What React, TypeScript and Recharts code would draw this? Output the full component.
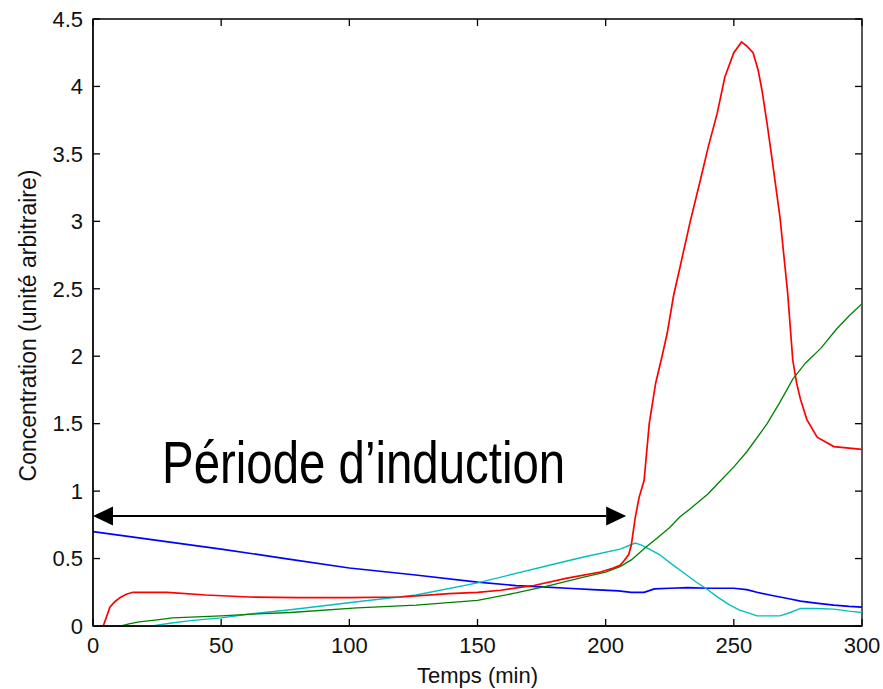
import React from 'react'
import { LineChart, Line, XAxis, YAxis, ReferenceLine, ReferenceArea, Label } from 'recharts'

// temps (min) / concentration pour chaque espèce
const redT = [0, 4, 6.6, 8.5, 10.5, 13, 15.6, 22, 29, 44, 61, 80, 100, 120, 139, 150, 159, 172, 185, 198, 203, 205.6, 207, 209, 210, 211.5, 213, 215, 217, 219.5, 222, 224, 226.5, 229, 233, 237, 240, 243.5, 246.5, 250, 253, 255, 257.5, 259.5, 261, 263, 265, 268, 271, 273, 274.5, 276, 278.5, 282.5, 289, 300]
const redV = [0, 0, 0.14, 0.18, 0.21, 0.235, 0.25, 0.25, 0.25, 0.23, 0.215, 0.21, 0.21, 0.215, 0.24, 0.25, 0.265, 0.3, 0.355, 0.4, 0.43, 0.45, 0.48, 0.53, 0.6, 0.8, 0.95, 1.08, 1.5, 1.8, 2.0, 2.17, 2.45, 2.66, 3.0, 3.31, 3.55, 3.8, 4.07, 4.25, 4.33, 4.3, 4.25, 4.12, 3.97, 3.72, 3.45, 3.03, 2.47, 1.97, 1.8, 1.68, 1.53, 1.4, 1.33, 1.31]

const blueT = [0, 25, 50, 75, 100, 125, 150, 165, 175, 185, 195, 205, 210, 215, 219, 225, 232, 240, 250, 255, 259, 264, 268, 272, 276, 282, 289, 295, 300]
const blueV = [0.7, 0.635, 0.57, 0.5, 0.43, 0.38, 0.325, 0.3, 0.29, 0.28, 0.27, 0.26, 0.25, 0.25, 0.275, 0.28, 0.285, 0.28, 0.28, 0.27, 0.25, 0.23, 0.215, 0.2, 0.185, 0.17, 0.155, 0.145, 0.14]

const greenT = [0, 11, 14, 18, 25, 31, 50, 64, 77, 103, 126, 150, 165, 178, 191, 200, 205.6, 210, 213, 216, 220, 225, 229, 233, 240, 245, 250, 255, 263, 268, 273, 278, 284, 290, 295, 300]
const greenV = [0, 0, 0.015, 0.03, 0.045, 0.06, 0.075, 0.09, 0.1, 0.135, 0.155, 0.19, 0.245, 0.3, 0.36, 0.4, 0.44, 0.49, 0.54, 0.59, 0.65, 0.73, 0.81, 0.87, 0.98, 1.08, 1.18, 1.29, 1.5, 1.66, 1.83, 1.95, 2.06, 2.2, 2.3, 2.39]

const cyanT = [0, 23, 30, 38, 50, 64, 77, 90, 103, 126, 150, 165, 178, 191, 205.6, 211.5, 214, 217, 221, 225, 230, 235, 239, 244, 248, 252, 256, 259, 268, 272, 276, 282, 289, 295, 300]
const cyanV = [0, 0, 0.02, 0.04, 0.06, 0.095, 0.12, 0.15, 0.18, 0.23, 0.32, 0.39, 0.45, 0.51, 0.57, 0.615, 0.6, 0.57, 0.53, 0.47, 0.4, 0.33, 0.28, 0.21, 0.16, 0.12, 0.095, 0.075, 0.075, 0.1, 0.13, 0.13, 0.125, 0.11, 0.1]

const xTicks = [0, 50, 100, 150, 200, 250, 300]
const yTicks = [0, 0.5, 1, 1.5, 2, 2.5, 3, 3.5, 4, 4.5]

// flèche "période d'induction"
const arrowStart = 0
const arrowEnd = 208
const arrowY = 0.815

const toRows = (t: number[], v: number[]) => t.map((x, i) => ({ t: x, v: v[i] }))

const redData = toRows(redT, redV)
const blueData = toRows(blueT, blueV)
const greenData = toRows(greenT, greenV)
const cyanData = toRows(cyanT, cyanV)

const FONT = '"Liberation Sans", Arial, sans-serif'

const X_MIN = 0
const X_MAX = 300
const Y_MIN = 0
const Y_MAX = 4.5
const PLOT_W = 769
const PLOT_H = 607
const TICK_PX = 7
// inward tick length expressed in axis units
const tickDx = ((X_MAX - X_MIN) * TICK_PX) / PLOT_W
const tickDy = ((Y_MAX - Y_MIN) * TICK_PX) / PLOT_H

const InductionArrow = (props: any) => {
  const { x1, y1, x2 } = props
  const head = 20
  const half = 9.5
  const left = Math.min(x1, x2)
  const right = Math.max(x1, x2)
  const cx = (left + right) / 2 + 4
  return (
    <g>
      <line x1={left + head} y1={y1} x2={right - head} y2={y1} stroke="#000" strokeWidth={2} />
      <polygon points={`${left},${y1} ${left + head},${y1 - half} ${left + head},${y1 + half}`} fill="#000" />
      <polygon points={`${right},${y1} ${right - head},${y1 - half} ${right - head},${y1 + half}`} fill="#000" />
      <text
        transform={`translate(${cx}, ${y1 - 33}) scale(1, 1.25)`}
        x={0}
        y={0}
        textAnchor="middle"
        fontFamily={FONT}
        fontSize={47.4}
        fill="#000"
      >
        Période d’induction
      </text>
    </g>
  )
}

const YTitle = (props: any) => {
  const { viewBox } = props
  const cx = viewBox.x + 28
  const cy = viewBox.y + viewBox.height / 2 + 3
  return (
    <text
      x={cx}
      y={cy}
      transform={`rotate(-90, ${cx}, ${cy})`}
      textAnchor="middle"
      dominantBaseline="central"
      fontFamily={FONT}
      fontSize={23}
      fill="#111"
    >
      Concentration (unité arbitraire)
    </text>
  )
}

export default function App() {
  const tickStyle = { fill: '#111', fontSize: 22, fontFamily: FONT }
  const frame = { stroke: '#000', strokeWidth: 1.3 }
  return (
    <div style={{ position: 'absolute', left: 0, top: 0, background: '#fff' }}>
      <LineChart width={883} height={689} margin={{ top: 19, right: 21, bottom: 0, left: 0 }}>
        <XAxis
          dataKey="t"
          type="number"
          domain={[X_MIN, X_MAX]}
          ticks={xTicks}
          allowDataOverflow
          height={63}
          tickLine={false}
          tickSize={0}
          tickMargin={11}
          tick={tickStyle}
          axisLine={frame}
        >
          <Label value="Temps (min)" position="insideBottom" offset={6} style={{ fontFamily: FONT, fontSize: 22, fill: '#111' }} />
        </XAxis>
        <YAxis
          type="number"
          domain={[Y_MIN, Y_MAX]}
          ticks={yTicks}
          allowDataOverflow
          width={93}
          tickLine={false}
          tickSize={0}
          tickMargin={10}
          tick={tickStyle}
          axisLine={frame}
        >
          <Label content={<YTitle />} />
        </YAxis>

        {/* box around the plot, MATLAB style */}
        <ReferenceArea x1={X_MIN} x2={X_MAX} y1={Y_MIN} y2={Y_MAX} fill="none" fillOpacity={0} stroke="#000" strokeWidth={1.3} />

        {/* inward ticks on all four sides */}
        {xTicks.map((t) => (
          <ReferenceLine key={'xb' + t} segment={[{ x: t, y: Y_MIN }, { x: t, y: Y_MIN + tickDy }]} {...frame} />
        ))}
        {xTicks.map((t) => (
          <ReferenceLine key={'xt' + t} segment={[{ x: t, y: Y_MAX }, { x: t, y: Y_MAX - tickDy }]} {...frame} />
        ))}
        {yTicks.map((v) => (
          <ReferenceLine key={'yl' + v} segment={[{ x: X_MIN, y: v }, { x: X_MIN + tickDx, y: v }]} {...frame} />
        ))}
        {yTicks.map((v) => (
          <ReferenceLine key={'yr' + v} segment={[{ x: X_MAX, y: v }, { x: X_MAX - tickDx, y: v }]} {...frame} />
        ))}

        <Line data={blueData} dataKey="v" stroke="#0000ff" strokeWidth={1.7} dot={false} isAnimationActive={false} />
        <Line data={cyanData} dataKey="v" stroke="#00bfbf" strokeWidth={1.4} dot={false} isAnimationActive={false} />
        <Line data={greenData} dataKey="v" stroke="#008000" strokeWidth={1.3} dot={false} isAnimationActive={false} />
        <Line data={redData} dataKey="v" stroke="#ff0000" strokeWidth={1.7} dot={false} isAnimationActive={false} />
        <ReferenceLine
          segment={[{ x: arrowStart, y: arrowY }, { x: arrowEnd, y: arrowY }]}
          shape={InductionArrow}
          ifOverflow="visible"
        />
      </LineChart>
    </div>
  )
}
